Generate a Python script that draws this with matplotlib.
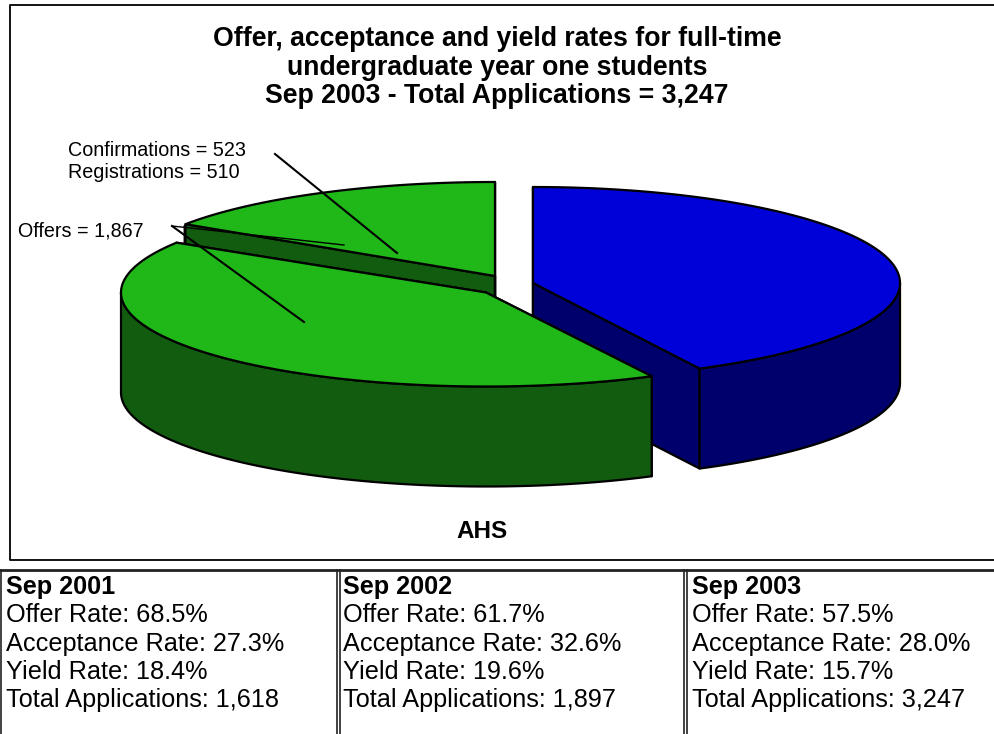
import numpy as np
import matplotlib
matplotlib.use('Agg')
from matplotlib import pyplot as plt
from matplotlib.patches import Polygon

plt.rcParams['font.family'] = ['Liberation Sans', 'DejaVu Sans']

# applications for Sep 2003
total_apps = 3247
offers = 1867
confirmations = 523
registrations = 510

title_lines = ['Offer, acceptance and yield rates for full-time',
               'undergraduate year one students',
               'Sep 2003 - Total Applications = 3,247']
years = ['Sep 2001', 'Sep 2002', 'Sep 2003']
offer_rate = ['68.5%', '61.7%', '57.5%']
accept_rate = ['27.3%', '32.6%', '28.0%']
yield_rate = ['18.4%', '19.6%', '15.7%']
total_by_year = ['1,618', '1,897', '3,247']

# slice sizes, clockwise from 12 o'clock
not_offered = total_apps - offers
offer_only = offers - confirmations
conf_only = confirmations - registrations

GREEN = '#20B818'
DGREEN = '#125C0F'
BLUE = '#0000D8'
NAVY = '#00006C'
DEPTH = 100

fig = plt.figure(figsize=(9.95, 7.34), dpi=100)
ax = fig.add_axes([0, 0, 1, 1])
ax.set_xlim(0, 995)
ax.set_ylim(734, 0)
ax.axis('off')


def rim(cx, cy, rx, ry, a0, a1):
    t = np.radians(np.linspace(a0, a1, 120))
    return np.column_stack([cx + rx * np.sin(t), cy - ry * np.cos(t)])


def slice3d(size, start, cx, cy, rx, ry, top, side):
    a0 = start
    a1 = start + size / total_apps * 360
    # cut faces going down from the apex
    p = rim(cx, cy, rx, ry, a0, a0)[0]
    q = rim(cx, cy, rx, ry, a1, a1)[0]
    for e in (p, q):
        ax.add_patch(Polygon([(cx, cy), e, (e[0], e[1] + DEPTH), (cx, cy + DEPTH)],
                             fc=side, ec='black', lw=1.6, joinstyle='round'))
    # outer wall, only the part facing the viewer
    w0 = max(a0, 90)
    w1 = min(a1, 270)
    if w1 > w0:
        r = rim(cx, cy, rx, ry, w0, w1)
        low = r[::-1] + [0, DEPTH]
        ax.add_patch(Polygon(np.vstack([r, low]), fc=side, ec='black', lw=1.6, joinstyle='round'))
    pts = np.vstack([[(cx, cy)], rim(cx, cy, rx, ry, a0, a1)])
    ax.add_patch(Polygon(pts, fc=top, ec='black', lw=1.6, joinstyle='round'))
    return a1


end_blue = slice3d(not_offered, 0, 533, 283, 367, 96, BLUE, NAVY)
start_reg = 360 - registrations / total_apps * 360
slice3d(conf_only, start_reg - conf_only / total_apps * 360, 495, 276, 366, 94, GREEN, DGREEN)
slice3d(registrations, start_reg, 495, 276, 371, 94, GREEN, DGREEN)
slice3d(offer_only, end_blue, 486, 292.5, 365, 94, GREEN, DGREEN)

# leader lines
ax.plot([275, 397], [154, 253], color='black', lw=1.5)
ax.plot([172, 304], [226, 322], color='black', lw=1.5)
ax.plot([172, 344], [226, 245], color='black', lw=1.0)

# chart frame
ax.plot([995, 10, 10, 995], [5, 5, 560, 560], color='black', lw=1.3)

for s, y in zip(title_lines, [39, 68, 96]):
    ax.text(497, y, s, fontsize=19.2, fontweight='bold', ha='center', va='center')
ax.text(68, 150, 'Confirmations = %d' % confirmations, fontsize=14.2, va='center')
ax.text(68, 173, 'Registrations = %d' % registrations, fontsize=14.2, va='center')
ax.text(18, 231, 'Offers = {:,}'.format(offers), fontsize=14.2, va='center')
ax.text(482, 531, 'AHS', fontsize=17.5, fontweight='bold', ha='center', va='center')

# table under the chart
ax.plot([0, 995], [570, 570], color='#222222', lw=2)
for x in [1, 336.5, 339.5, 684, 687]:
    ax.plot([x, x], [570, 734], color='#222222', lw=1.2)

for i, x in enumerate([6, 343, 692]):
    ax.text(x, 587, years[i], fontsize=18.2, fontweight='bold', va='center')
    ax.text(x, 615, 'Offer Rate: ' + offer_rate[i], fontsize=18.2, va='center')
    ax.text(x, 644, 'Acceptance Rate: ' + accept_rate[i], fontsize=18.2, va='center')
    ax.text(x, 672, 'Yield Rate: ' + yield_rate[i], fontsize=18.2, va='center')
    ax.text(x, 700, 'Total Applications: ' + total_by_year[i], fontsize=18.2, va='center')

plt.savefig('out.png', dpi=100)
